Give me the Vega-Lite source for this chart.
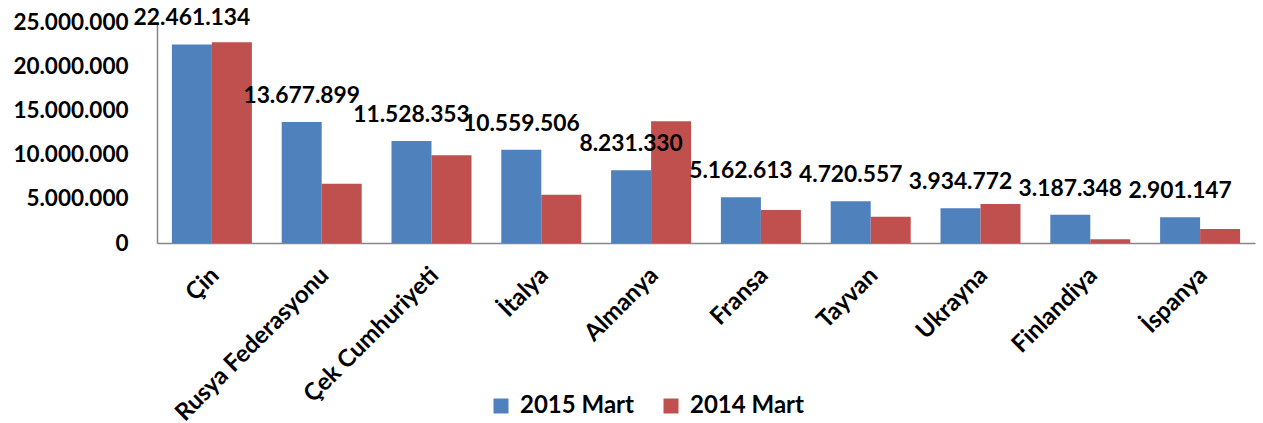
{
  "$schema": "https://vega.github.io/schema/vega-lite/v6.json",
  "autosize": "none",
  "width": 1098,
  "height": 221,
  "padding": {"left": 157, "top": 22, "right": 8, "bottom": 180},
  "background": "white",
  "config": {
    "locale": {"number": {"decimal": ",", "thousands": ".", "grouping": [3], "currency": ["", ""]}},
    "view": {"stroke": null},
    "font": "Lato"
  },
  "data": {
    "values": [
      {"country": "Çin", "series": "2015 Mart", "value": 22461134},
      {"country": "Çin", "series": "2014 Mart", "value": 22700000},
      {"country": "Rusya Federasyonu", "series": "2015 Mart", "value": 13677899},
      {"country": "Rusya Federasyonu", "series": "2014 Mart", "value": 6700000},
      {"country": "Çek Cumhuriyeti", "series": "2015 Mart", "value": 11528353},
      {"country": "Çek Cumhuriyeti", "series": "2014 Mart", "value": 9920000},
      {"country": "İtalya", "series": "2015 Mart", "value": 10559506},
      {"country": "İtalya", "series": "2014 Mart", "value": 5470000},
      {"country": "Almanya", "series": "2015 Mart", "value": 8231330},
      {"country": "Almanya", "series": "2014 Mart", "value": 13770000},
      {"country": "Fransa", "series": "2015 Mart", "value": 5162613},
      {"country": "Fransa", "series": "2014 Mart", "value": 3730000},
      {"country": "Tayvan", "series": "2015 Mart", "value": 4720557},
      {"country": "Tayvan", "series": "2014 Mart", "value": 2980000},
      {"country": "Ukrayna", "series": "2015 Mart", "value": 3934772},
      {"country": "Ukrayna", "series": "2014 Mart", "value": 4410000},
      {"country": "Finlandiya", "series": "2015 Mart", "value": 3187348},
      {"country": "Finlandiya", "series": "2014 Mart", "value": 420000},
      {"country": "İspanya", "series": "2015 Mart", "value": 2901147},
      {"country": "İspanya", "series": "2014 Mart", "value": 1580000}
    ]
  },
  "encoding": {
    "x": {
      "field": "country",
      "type": "nominal",
      "sort": null,
      "scale": {"paddingInner": 0.2714, "paddingOuter": 0.1357},
      "axis": {
        "title": null,
        "labelAngle": -45,
        "labelAlign": "right",
        "labelBaseline": "top",
        "labelFont": "Lato",
        "labelFontSize": 24,
        "labelFontWeight": "bold",
        "labelColor": "black",
        "labelPadding": 20,
        "labelOffset": -5,
        "ticks": false,
        "domainColor": "#868686",
        "domainWidth": 1.5,
        "labelOverlap": false,
        "labelLimit": 0
      }
    },
    "xOffset": {"field": "series", "type": "nominal", "sort": ["2015 Mart", "2014 Mart"]},
    "y": {
      "field": "value",
      "type": "quantitative",
      "scale": {"domain": [0, 25000000], "nice": false},
      "axis": {
        "title": null,
        "values": [0, 5000000, 10000000, 15000000, 20000000, 25000000],
        "format": ",d",
        "grid": false,
        "ticks": false,
        "labelFont": "Lato",
        "labelFontSize": 22.5,
        "labelFontWeight": "bold",
        "labelColor": "black",
        "labelPadding": 29,
        "domainColor": "#868686",
        "domainWidth": 1.5
      }
    }
  },
  "layer": [
    {
      "mark": {"type": "bar"},
      "encoding": {
        "color": {
          "field": "series",
          "type": "nominal",
          "sort": ["2015 Mart", "2014 Mart"],
          "scale": {"domain": ["2015 Mart", "2014 Mart"], "range": ["#4F81BD", "#C0504D"]},
          "legend": {
            "title": null,
            "orient": "none",
            "direction": "horizontal",
            "legendX": 332,
            "legendY": 372,
            "padding": 0,
            "symbolType": "square",
            "symbolSize": 225,
            "symbolStrokeWidth": 0,
            "labelFont": "Lato",
            "labelFontSize": 24,
            "labelFontWeight": "bold",
            "labelColor": "black",
            "labelOffset": 7,
            "columnPadding": 25
          }
        }
      }
    },
    {
      "transform": [{"filter": "datum.series === '2015 Mart'"}],
      "mark": {"type": "text", "baseline": "alphabetic", "dy": -19, "font": "Lato", "fontSize": 22.8, "fontWeight": "bold", "color": "black"},
      "encoding": {
        "text": {"field": "value", "type": "quantitative", "format": ",d"}
      }
    }
  ]
}
